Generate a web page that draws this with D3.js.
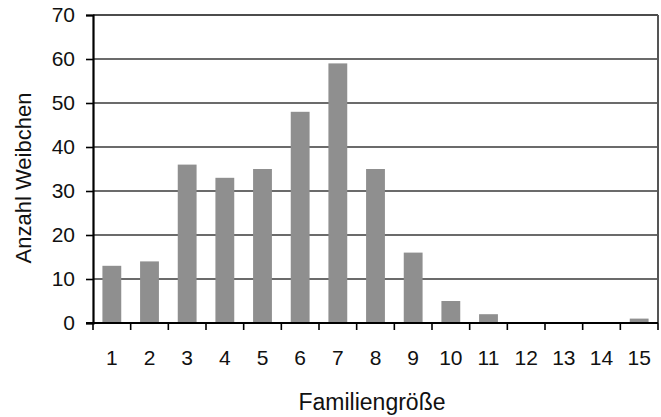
<!DOCTYPE html>
<html><head><meta charset="utf-8">
<script src="https://cdn.jsdelivr.net/npm/d3@7"></script>
<style>body{margin:0;background:#fff}text{font-family:"Liberation Sans",Arial,sans-serif}</style>
</head><body>
<svg id="c" width="661" height="417"></svg>
<script>
const categories = ["1","2","3","4","5","6","7","8","9","10","11","12","13","14","15"];
const values = [13,14,36,33,35,48,59,35,16,5,2,0,0,0,1];
const yTicks = [0,10,20,30,40,50,60,70];
const xTitle = "Familiengröße";
const yTitle = "Anzahl Weibchen";

const m = {l:93, r:658, t:15, b:323};
const svg = d3.select("#c");
const x = d3.scaleBand().domain(categories).range([m.l, m.r]).paddingInner(0.5).paddingOuter(0.25);
const xb = d3.scaleBand().domain(categories).range([m.l, m.r]);
const y = d3.scaleLinear().domain([0,70]).range([m.b, m.t]);

// gridlines
svg.append("g").selectAll("line").data(yTicks.filter(d=>d>0 && d<70)).join("line")
  .attr("x1", m.l).attr("x2", m.r).attr("y1", d=>y(d)).attr("y2", d=>y(d))
  .attr("stroke", "#3a3a3a").attr("stroke-width", 1.3);

// bars
svg.append("g").selectAll("rect").data(values).join("rect")
  .attr("x", (d,i)=>x(categories[i])).attr("width", x.bandwidth())
  .attr("y", d=>y(d)).attr("height", d=>y(0)-y(d)).attr("fill", "#8f8f8f");

// frame top & right
svg.append("line").attr("x1", m.l).attr("x2", m.r).attr("y1", y(70)).attr("y2", y(70)).attr("stroke","#111").attr("stroke-width",1.6);
svg.append("line").attr("x1", m.r).attr("x2", m.r).attr("y1", y(70)).attr("y2", y(0)).attr("stroke","#555").attr("stroke-width",2);

// y axis
const ya = svg.append("g").attr("transform", `translate(${m.l},0)`)
  .call(d3.axisLeft(y).tickValues(yTicks).tickSize(7).tickPadding(11));
ya.select(".domain").attr("stroke","#000").attr("stroke-width",2.2);
ya.selectAll(".tick line").attr("stroke","#000").attr("stroke-width",1.6);
ya.selectAll("text").attr("font-size", 21).attr("fill","#111").attr("font-family",'"Liberation Sans",Arial,sans-serif');

// x axis
const xg = svg.append("g").attr("transform", `translate(0,${m.b})`);
xg.append("line").attr("x1", m.l-7).attr("x2", m.r).attr("stroke","#000").attr("stroke-width",2.2);
const bounds = categories.map(c=>xb(c)).concat([m.r]);
xg.selectAll("line.t").data(bounds).join("line").attr("class","t")
  .attr("x1", d=>d).attr("x2", d=>d).attr("y1", 0).attr("y2", 7).attr("stroke","#000").attr("stroke-width",1.6);
xg.selectAll("text").data(categories).join("text")
  .attr("x", d=>xb(d)+xb.bandwidth()/2).attr("y", 42).attr("text-anchor","middle")
  .attr("font-size", 21).attr("fill","#111").text(d=>d);

// titles
svg.append("text").attr("x", 372).attr("y", 410).attr("text-anchor","middle")
  .attr("font-size", 23).attr("fill","#111").text(xTitle);
svg.append("text").attr("transform", `translate(31,178) rotate(-90)`).attr("text-anchor","middle")
  .attr("font-size", 22).attr("fill","#111").text(yTitle);
</script>
</body></html>
